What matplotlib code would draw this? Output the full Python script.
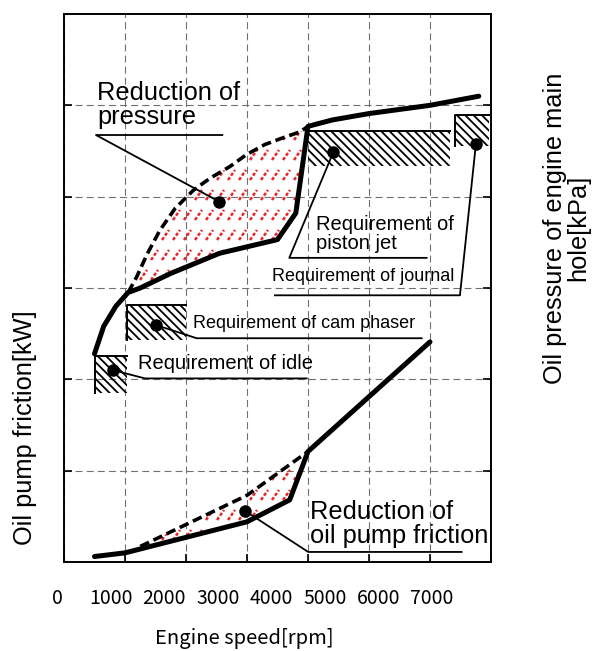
import numpy as np
import matplotlib
matplotlib.use("Agg")
import matplotlib.pyplot as plt
from matplotlib.patches import Rectangle
from matplotlib.collections import LineCollection

# ---------------- data ----------------
speed_press_new = [500, 650, 850, 1050, 1250, 1750, 2550, 3500, 3800, 4000, 4400, 5000, 6000, 6800]
press_new = [2.28, 2.58, 2.80, 2.95, 3.00, 3.16, 3.38, 3.53, 3.82, 4.77, 4.84, 4.91, 5.00, 5.10]

speed_press_old = [1050, 1190, 1370, 1570, 1820, 2120, 2390, 2720, 2990, 3290, 3570, 3870, 4000]
press_old = [2.95, 3.12, 3.38, 3.63, 3.87, 4.07, 4.20, 4.33, 4.46, 4.57, 4.64, 4.71, 4.77]

speed_fric_new = [500, 1000, 2000, 3000, 3700, 4000, 6000]
fric_new = [0.06, 0.10, 0.27, 0.44, 0.68, 1.21, 2.41]

speed_fric_old = [1250, 1500, 2000, 2500, 3000, 3500, 4000]
fric_old = [0.17, 0.25, 0.41, 0.57, 0.73, 0.97, 1.21]

# requirement boxes: idle, cam phaser, piston jet, journal
box_x0 = [500, 1030, 4000, 6410]
box_x1 = [1030, 2000, 6330, 6960]
box_y0 = [1.85, 2.43, 4.34, 4.55]
box_y1 = [2.26, 2.81, 4.72, 4.89]
box_left_line = [True, True, False, True]

# annotation dots and their leader lines
dot_x = [2546, 4414, 6753, 1503, 808, 2967]
dot_y = [3.945, 4.486, 4.58, 2.595, 2.10, 0.56]
lead_x = [[524, 2595], [3693, 5945], [6491, 3458], [2175, 5863], [1328, 3978], [4004, 6518]]
lead_y = [[4.675, 4.675], [3.33, 3.33], [2.92, 2.92], [2.45, 2.45], [2.01, 2.01], [0.11, 0.11]]

labels = ["Reduction of\npressure", "Requirement of\npiston jet", "Requirement of journal",
          "Requirement of cam phaser", "Requirement of idle", "Reduction of\noil pump friction"]
label_x = [546, 4131, 3404, 2119, 1218, 4032]
label_y = [4.80, 3.427, 3.08, 2.56, 2.113, 0.208]
label_size = [18.3, 14.5, 13, 13, 14.5, 18.3]

xticks = [0, 1000, 2000, 3000, 4000, 5000, 6000, 7000]
xtick_labels = ["0", "1000", "2000", "3000", "4000", "5000", "6000", "7000"]
ygrid = [1, 2, 3, 4, 5]

plt.rcParams['lines.scale_dashes'] = False
plt.rcParams['hatch.linewidth'] = 1.3
plt.rcParams['font.family'] = ['Liberation Sans', 'DejaVu Sans']

W, H = 594, 651
fig = plt.figure(figsize=(W / 100, H / 100), dpi=100)
ax = fig.add_axes([64 / W, (H - 562) / H, (491 - 64) / W, (562 - 14) / H])
ax.set_xlim(0, 7000)
ax.set_ylim(0, 6)
ax.set_xticks(xticks)
ax.set_yticks(ygrid)
ax.tick_params(axis='both', direction='in', length=6, width=1.2,
               labelbottom=False, labelleft=False, right=True, top=False)
ax.grid(True, color='#6f6f6f', lw=0.8, linestyle=(0, (5, 3)))
for s in ax.spines.values():
    s.set_linewidth(1.4)

# red dotted slash pattern clipped to a region
axw, axh = 491 - 64, 562 - 14
def red_pattern(path):
    segs = []
    for ry in np.arange(2, axh, 20.0):
        for cx in np.arange(-12, axw + 12, 11.0):
            segs.append([(cx / axw, ry / axh), ((cx + 7) / axw, (ry + 10) / axh)])
    lc = LineCollection(segs, transform=ax.transAxes, colors='#e8262a', linewidths=1.8,
                        linestyles=[(0, (2.4, 1.4))], zorder=2)
    ax.add_collection(lc)
    lc.set_clip_path(path, ax.transData)

xg = np.linspace(speed_press_old[0], speed_press_old[-1], 300)
fb = ax.fill_between(xg, np.interp(xg, speed_press_new, press_new),
                     np.interp(xg, speed_press_old, press_old), facecolor='none', edgecolor='none')
red_pattern(fb.get_paths()[0])
xg2 = np.linspace(speed_fric_old[0], speed_fric_old[-1], 300)
fb2 = ax.fill_between(xg2, np.interp(xg2, speed_fric_new, fric_new),
                      np.interp(xg2, speed_fric_old, fric_old), facecolor='none', edgecolor='none')
red_pattern(fb2.get_paths()[0])

# black hatched requirement boxes
for x0, x1, y0, y1, ll in zip(box_x0, box_x1, box_y0, box_y1, box_left_line):
    ax.add_patch(Rectangle((x0, y0), x1 - x0, y1 - y0, facecolor='none', edgecolor='black',
                           lw=0, hatch='\\\\\\\\', zorder=2))
    if ll:
        ax.plot([x0, x0, x1], [y0, y1, y1], color='black', lw=1.4, zorder=3)
    else:
        ax.plot([x0, x1], [y1, y1], color='black', lw=1.4, zorder=3)

# curves
ax.plot(speed_press_old, press_old, color='black', lw=2.6, linestyle=(0, (7, 3.5)), zorder=4)
ax.plot(speed_fric_old, fric_old, color='black', lw=2.6, linestyle=(0, (7, 3.5)), zorder=4)
ax.plot(speed_press_new, press_new, color='black', lw=3.6, solid_capstyle='round',
        solid_joinstyle='round', zorder=5)
ax.plot(speed_fric_new, fric_new, color='black', lw=3.6, solid_capstyle='round',
        solid_joinstyle='round', zorder=5)

# leaders, dots, labels
for dx, dy, lx, ly in zip(dot_x, dot_y, lead_x, lead_y):
    ax.plot([dx] + lx, [dy] + ly, color='black', lw=1.3, zorder=6)
ax.plot(dot_x, dot_y, 'o', color='black', ms=8, zorder=7)
for t, x, y, s in zip(labels, label_x, label_y, label_size):
    ax.text(x, y, t, fontsize=s, ha='left', va='baseline', linespacing=1.0, zorder=8)

# x tick labels row (placed below, on their own scale)
axl = fig.add_axes([57 / W, (H - 589) / H, (432 - 57) / W, 0.0001])
axl.set_xlim(0, 7000)
axl.set_xticks(xticks)
axl.set_xticklabels(xtick_labels, family=['Noto Sans CJK JP', 'DejaVu Sans'], fontsize=14)
axl.tick_params(axis='x', length=0, pad=-1)
axl.set_yticks([])
for s in axl.spines.values():
    s.set_visible(False)
axl.patch.set_visible(False)
axl.set_xlabel("Engine speed[rpm]", family=['Noto Sans CJK JP', 'DejaVu Sans'], fontsize=14.5,
               labelpad=14)

fig.text(25 / W, (H - 428) / H, "Oil pump friction[kW]", rotation=90, ha='center', va='center',
         fontsize=18.3)
fig.text(567 / W, (H - 228) / H, "Oil pressure of engine main\nhole[kPa]", rotation=90,
         ha='center', va='center', fontsize=18.3, multialignment='center', linespacing=0.95)

fig.savefig("out.png", dpi=100)
